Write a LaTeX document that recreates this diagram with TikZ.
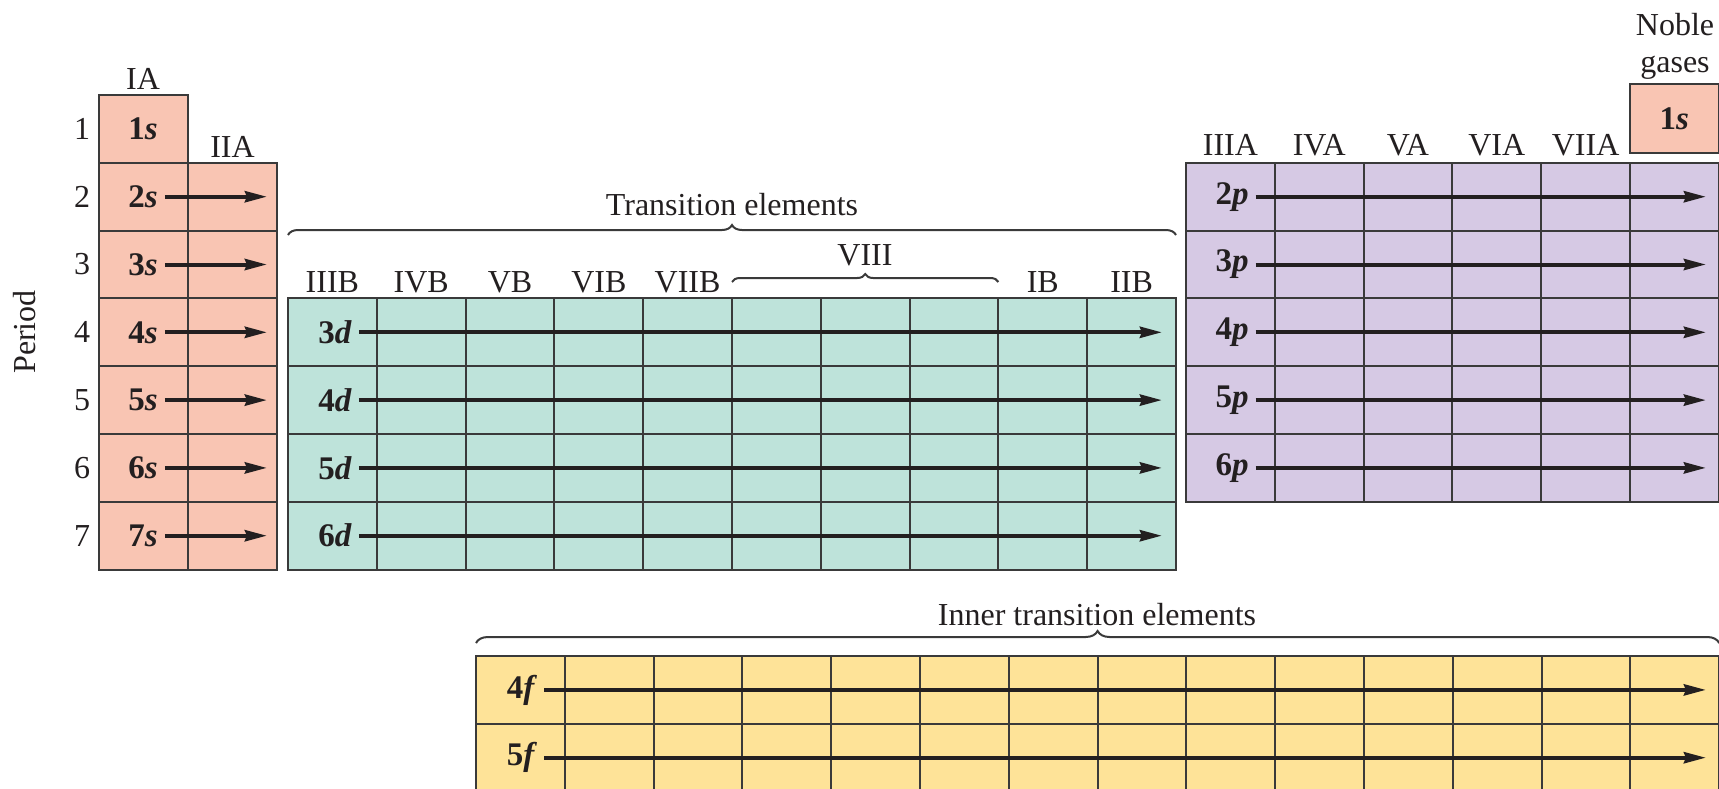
\documentclass[tikz,border=0pt]{standalone}
\usepackage{fontspec}
\setmainfont{Liberation Serif}
\usetikzlibrary{arrows.meta,decorations.pathreplacing}
\definecolor{sblk}{HTML}{F9C5B3}
\definecolor{dblk}{HTML}{BEE3DA}
\definecolor{pblk}{HTML}{D6C9E4}
\definecolor{fblk}{HTML}{FEE398}
\definecolor{gridc}{HTML}{3A3A3A}
\definecolor{ink}{HTML}{231F20}
\tikzset{
  cellbox/.style={draw=gridc, line width=2pt},
  orb/.style={font=\fontsize{33}{38}\selectfont\bfseries, text=ink, inner sep=7pt},
  hdr/.style={font=\fontsize{32}{38}\selectfont, text=ink},
  arr/.style={draw=ink, line width=4pt, -{Stealth[length=22pt,width=11pt,inset=2pt]}},
  brc/.style={draw=gridc, line width=2pt, decorate, decoration={brace, amplitude=#1}},
  brc/.default=10pt
}
\begin{document}
\begin{tikzpicture}[x=1pt,y=-1pt]
\useasboundingbox (0,0) rectangle (1719,788);
\clip (0,0) rectangle (1719,788);
\fill[white] (0,0) rectangle (1719,788);
% s-block
\draw[cellbox, fill=sblk] (99,95) rectangle (188,162.8);
\foreach \c in {0,1}
  \foreach \r in {0,...,5}
    \draw[cellbox, fill=sblk] ({99+\c*89},{162.8+\r*67.8}) rectangle ++(89,67.8);
% d-block
\foreach \c in {0,...,9}
  \foreach \r in {0,...,3}
    \draw[cellbox, fill=dblk] ({288+\c*88.8},{298.4+\r*67.8}) rectangle ++(88.8,67.8);
% p-block
\foreach \c in {0,...,5}
  \foreach \r in {0,...,4}
    \draw[cellbox, fill=pblk] ({1186+\c*88.8},{162.8+\r*67.8}) rectangle ++(88.8,67.8);
% noble gas 1s
\draw[cellbox, fill=sblk] (1630,84) rectangle (1718.8,153);
% f-block
\foreach \c in {0,...,13}
  \foreach \r in {0,1}
    \draw[cellbox, fill=fblk] ({476+\c*88.8},{656+\r*67.8}) rectangle ++(88.8,67.8);

% orbital labels and arrows
\node[orb] (s1) at (143,128.9) {1\textit{s}};
\node[orb] (ng1) at (1674.4,118.5) {1\textit{s}};
\foreach \r in {2,...,7} {
  \node[orb] (s\r) at (143,{95+(\r-0.5)*67.8}) {\r\textit{s}};
  \coordinate (es\r) at (267,{95+(\r-0.5)*67.8});
  \draw[arr] (s\r.east) -- (es\r);
}
\foreach \n [count=\i from 0] in {3,4,5,6} {
  \node[orb] (d\n) at (335,{298.4+(\i+0.5)*67.8}) {\n\textit{d}};
  \coordinate (ed\n) at (1162,{298.4+(\i+0.5)*67.8});
  \draw[arr] (d\n.east) -- (ed\n);
}
\foreach \n [count=\i from 0] in {2,3,4,5,6} {
  \node[orb] (p\n) at (1232,{162.8+(\i+0.5)*67.8}) {\n\textit{p}};
  \coordinate (ep\n) at (1706,{162.8+(\i+0.5)*67.8});
  \draw[arr] (p\n.east) -- (ep\n);
}
\foreach \n [count=\i from 0] in {4,5} {
  \node[orb] (f\n) at (522,{656+(\i+0.5)*67.8}) {\n\textit{f}};
  \coordinate (ef\n) at (1706,{656+(\i+0.5)*67.8});
  \draw[arr] (f\n.east) -- (ef\n);
}

% period numbers
\foreach \r in {1,...,7}
  \node[hdr] (per\r) at (82,{95+(\r-0.5)*67.8}) {\r};
\node[hdr, rotate=90] (period) at (25,332) {Period};

% group headers
\node[hdr] (hIA) at (143,79) {IA};
\node[hdr] (hIIA) at (232.5,147) {IIA};
\foreach \t/\c in {IIIB/0, IVB/1, VB/2, VIB/3, VIIB/4, IB/8, IIB/9}
  \node[hdr] (h\t) at ({288+(\c+0.5)*88.8},282) {\t};
\foreach \t/\c in {IIIA/0, IVA/1, VA/2, VIA/3, VIIA/4}
  \node[hdr] (h\t) at ({1186+(\c+0.5)*88.8},145) {\t};
\node[hdr, anchor=base] (noble1) at (1675,35) {Noble};
\node[hdr, anchor=base] (noble2) at (1675,72) {gases};

% braces
\coordinate (bVa) at (732,282);
\coordinate (bVb) at (998.4,282);
\draw[brc=8pt] (bVa) -- (bVb);
\node[hdr] (hVIII) at (865,255) {VIII};

\coordinate (bTa) at (288,235);
\coordinate (bTb) at (1176,235);
\draw[brc=10pt] (bTa) -- (bTb);
\node[hdr] (trans) at (732,205) {Transition elements};

\coordinate (bIa) at (476,643);
\coordinate (bIb) at (1719.2,643);
\draw[brc=12pt] (bIa) -- (bIb);
\node[hdr] (inner) at (1097,615) {Inner transition elements};
\end{tikzpicture}
\end{document}
